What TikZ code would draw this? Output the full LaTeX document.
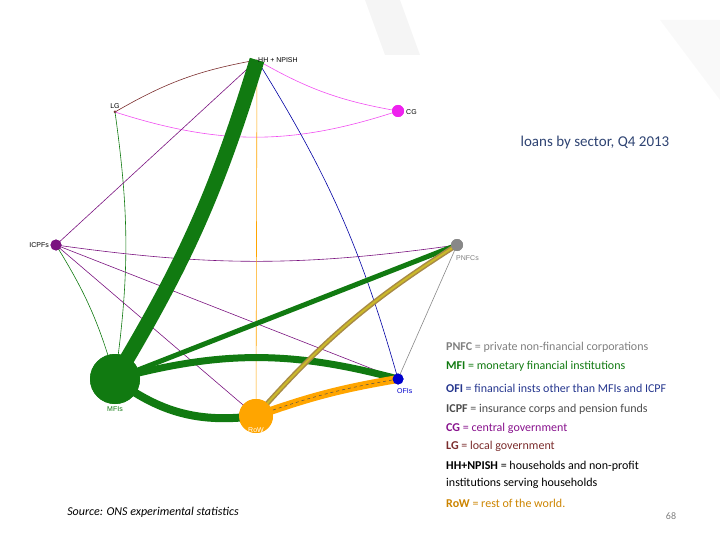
\documentclass[tikz,border=0pt]{standalone}
\usepackage{fontspec}
\setmainfont{Carlito}
\setsansfont{Liberation Sans}
\begin{document}
\begin{tikzpicture}[x=1pt,y=-1pt,
  lab/.style={font=\sffamily\fontsize{7}{8}\selectfont,inner sep=1pt},
  leg/.style={anchor=west,font=\fontsize{12}{14}\selectfont,inner sep=0pt},
  thin/.style={line width=0.6pt}]
\useasboundingbox (0,0) rectangle (720,540);
\definecolor{mfi}{HTML}{117A11}
\definecolor{row}{HTML}{FFA500}
\definecolor{ofi}{HTML}{0000CC}
\definecolor{cg}{HTML}{EE22EE}
\definecolor{lg}{HTML}{7B2D2D}
\definecolor{icpf}{HTML}{7B1480}
\definecolor{pnfc}{HTML}{888888}
\definecolor{ttl}{HTML}{2E4372}
\definecolor{tan}{HTML}{A88A45}
\fill[gray!8] (365,0) -- (400,0) -- (420,55) -- (385,55) -- cycle;
\fill[gray!5] (660,20) -- (720,20) -- (720,100) -- cycle;
% nodes
\node[circle,fill=mfi,minimum size=50pt,inner sep=0] (mfi) at (115,379) {};
\node[circle,fill=row,minimum size=34pt,inner sep=0] (row) at (256,416) {};
\node[circle,fill=ofi,minimum size=11pt,inner sep=0] (ofi) at (398,379) {};
\node[circle,fill=pnfc,minimum size=12pt,inner sep=0] (pnfc) at (457,245) {};
\node[circle,fill=icpf,minimum size=11pt,inner sep=0] (icpf) at (56,245) {};
\node[circle,fill=cg,minimum size=12pt,inner sep=0] (cg) at (398,111) {};
\node[circle,fill=lg,minimum size=3pt,inner sep=0] (lg) at (115,112) {};
\coordinate (hh) at (257,60);
% edges
\draw[lg,thin] (lg.center) to[bend left=10] (hh);
\draw[cg!80,thin] (hh) to[bend right=10] (cg.center);
\draw[cg!80,thin] (lg.center) to[bend right=18] (cg.center);
\draw[mfi,thin] (lg.center) to[bend left=8] (mfi.center);
\draw[icpf,thin] (icpf.center) -- (hh);
\draw[icpf,thin] (icpf.center) to[bend right=8] (pnfc.center);
\draw[mfi,thin] (icpf.center) to[bend left=8] (mfi.center);
\draw[icpf,thin] (icpf.center) -- (row.center);
\draw[icpf,thin] (icpf.center) -- (ofi.center);
\draw[ofi!80!black,thin] (hh) to[bend left=8] (ofi.center);
\draw[row,thin] (hh) -- (row.center);
\draw[pnfc,thin] (pnfc.center) -- (ofi.center);
\draw[mfi,line width=15pt] (mfi.center) to[bend right=7] (hh);
\draw[mfi,line width=5pt] (mfi.center) -- (pnfc.center);
\draw[mfi,line width=7pt] (mfi.center) to[bend left=15] (ofi.center);
\draw[mfi,line width=8pt] (mfi.center) to[bend right=22] (row.center);
\draw[tan,line width=5pt] (row.center) to[bend left=8] (pnfc.center);
\draw[tan!60!yellow,line width=2pt] (row.center) to[bend left=8] (pnfc.center);
\draw[row,line width=8pt] (row.center) to[bend left=5] (ofi.center);
\draw[black!70,line width=0.5pt,dashed] (row.center) to[bend left=5] (ofi.center);
% redraw nodes on top
\fill[mfi] (mfi) circle (25pt);
\fill[row] (row) circle (17pt);
\fill[ofi] (ofi) circle (5.5pt);
\fill[pnfc] (pnfc) circle (6pt);
\fill[icpf] (icpf) circle (5.5pt);
\fill[cg] (cg) circle (6pt);
% labels
\node[lab,anchor=west] (hhl) at (257,60) {HH + NPISH};
\node[lab,anchor=south] (lgl) at (115,110) {LG};
\node[lab,anchor=west] (cgl) at (405,112) {CG};
\node[lab,anchor=east] (icpfl) at (50,245) {ICPFs};
\node[lab,anchor=north west,text=gray] (pnfcl) at (455,254) {PNFCs};
\node[lab,anchor=north west,text=ofi] (ofil) at (396,387) {OFIs};
\node[lab,anchor=north,text=mfi] (mfil) at (115,405) {MFIs};
\node[lab,anchor=north,text=white] (rowl) at (256,426) {RoW};
% title
\node[anchor=center,text=ttl,font=\fontsize{15}{18}\selectfont] (title) at (595,143) {loans by sector, Q4 2013};
% legend
\node[leg,text=gray] (l1) at (446,347) {\textbf{PNFC} = private non-financial corporations};
\node[leg,text=mfi] (l2) at (446,366) {\textbf{MFI} = monetary financial institutions};
\node[leg,text=ttl!80!blue] (l3) at (446,388) {\textbf{OFI} = financial insts other than MFIs and ICPF};
\node[leg,text=black!70] (l4) at (446,409) {\textbf{ICPF} = insurance corps and pension funds};
\node[leg,text=icpf!90!magenta] (l5) at (446,428) {\textbf{CG} = central government};
\node[leg,text=lg] (l6) at (446,446) {\textbf{LG} = local government};
\node[leg,text=black] (l7) at (446,466) {\textbf{HH+NPISH} = households and non-profit};
\node[leg,text=black] (l7b) at (446,483) {institutions serving households};
\node[leg,text=row!80!black] (l8) at (446,503) {\textbf{RoW} = rest of the world.};
\node[text=gray,font=\fontsize{10}{12}\selectfont] (pg) at (671,516) {68};
\node[font=\itshape\fontsize{12}{14}\selectfont] (src) at (153,512) {Source: ONS experimental statistics};
\end{tikzpicture}
\end{document}
